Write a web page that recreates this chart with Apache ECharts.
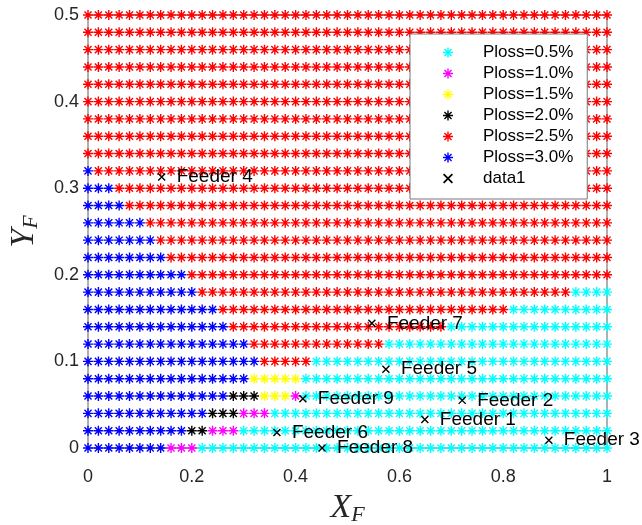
<!DOCTYPE html>
<html>
<head>
<meta charset="utf-8">
<script src="https://cdn.jsdelivr.net/npm/echarts@6/dist/echarts.min.js"></script>
<style>
  html, body { margin: 0; padding: 0; background: #fff; }
  #chart { width: 642px; height: 525px; }
</style>
</head>
<body>
<div id="chart"></div>
<script>
// grid of operating points
const xCols = [0, 0.02, 0.04, 0.06, 0.08, 0.1, 0.12, 0.14, 0.16, 0.18, 0.2, 0.22, 0.24, 0.26, 0.28, 0.3,
  0.32, 0.34, 0.36, 0.38, 0.4, 0.42, 0.44, 0.46, 0.48, 0.5, 0.52, 0.54, 0.56, 0.58, 0.6, 0.62, 0.64,
  0.66, 0.68, 0.7, 0.72, 0.74, 0.76, 0.78, 0.8, 0.82, 0.84, 0.86, 0.88, 0.9, 0.92, 0.94, 0.96, 0.98, 1];
const yRows = [0, 0.02, 0.04, 0.06, 0.08, 0.1, 0.12, 0.14, 0.16, 0.18, 0.2, 0.22, 0.24, 0.26, 0.28,
  0.3, 0.32, 0.34, 0.36, 0.38, 0.4, 0.42, 0.44, 0.46, 0.48, 0.5];

// points per row (bottom to top) of each Ploss class, read left to right: 3.0, 2.5, 2.0, 1.5, 1.0, 0.5
const cnt30 = [8, 10, 12, 14, 16, 17, 16, 14, 13, 11, 10, 8, 7, 6, 4, 3, 1, 0, 0, 0, 0, 0, 0, 0, 0, 0];
const cnt25 = [0, 0, 0, 0, 0, 5, 13, 21, 28, 36, 41, 43, 44, 45, 47, 48, 50, 51, 51, 51, 51, 51, 51, 51, 51, 51];
const cnt20 = [0, 2, 3, 3, 0, 0, 0, 0, 0, 0, 0, 0, 0, 0, 0, 0, 0, 0, 0, 0, 0, 0, 0, 0, 0, 0];
const cnt15 = [0, 0, 0, 3, 5, 0, 0, 0, 0, 0, 0, 0, 0, 0, 0, 0, 0, 0, 0, 0, 0, 0, 0, 0, 0, 0];
const cnt10 = [3, 3, 3, 1, 0, 0, 0, 0, 0, 0, 0, 0, 0, 0, 0, 0, 0, 0, 0, 0, 0, 0, 0, 0, 0, 0];
const cnt05 = [40, 36, 33, 30, 30, 29, 22, 16, 10, 4, 0, 0, 0, 0, 0, 0, 0, 0, 0, 0, 0, 0, 0, 0, 0, 0];

const classNames = ['Ploss=3.0%', 'Ploss=2.5%', 'Ploss=2.0%', 'Ploss=1.5%', 'Ploss=1.0%', 'Ploss=0.5%'];
const classColors = ['#0000ff', '#ff0000', '#000000', '#ffff00', '#ff00ff', '#00ffff'];

// feeders
const feederNames = ['Feeder 1', 'Feeder 2', 'Feeder 3', 'Feeder 4', 'Feeder 5', 'Feeder 6', 'Feeder 7', 'Feeder 8', 'Feeder 9'];
const feederX = [0.649, 0.721, 0.888, 0.142, 0.574, 0.364, 0.547, 0.451, 0.414];
const feederY = [0.033, 0.055, 0.009, 0.313, 0.091, 0.018, 0.144, 0.0, 0.057];

// filled marker shapes made of thin bars (so the legend inherits them too)
function barsPath(spokes, hw) {
  let d = '';
  spokes.forEach(([ax, ay, bx, by]) => {
    const len = Math.hypot(bx - ax, by - ay);
    const nx = -(by - ay) / len * hw, ny = (bx - ax) / len * hw;
    const p = [[ax - nx, ay - ny], [bx - nx, by - ny], [bx + nx, by + ny], [ax + nx, ay + ny]];
    d += 'M' + p.map(q => q[0].toFixed(3) + ',' + q[1].toFixed(3)).join('L') + 'Z';
  });
  return 'path://' + d;
}
const s = Math.SQRT1_2;
const STAR = barsPath([[-1, 0, 1, 0], [0, -1, 0, 1], [-s, -s, s, s], [-s, s, s, -s]], 0.14);
const CROSS = barsPath([[-1, -1, 1, 1], [-1, 1, 1, -1]], 0.2);

// walk each row and hand every point to its class
const counts = [cnt30, cnt25, cnt20, cnt15, cnt10, cnt05];
const classData = counts.map(() => []);
yRows.forEach((y, r) => {
  let c = 0;
  counts.forEach((cnt, k) => {
    for (let i = 0; i < cnt[r]; i++) {
      classData[k].push([xCols[c], y]);
      c++;
    }
  });
});

const chart = echarts.init(document.getElementById('chart'));
const font = 'Liberation Sans, Arial, sans-serif';
const serif = 'Liberation Serif, serif';

const series = classNames.map((name, k) => ({
  name: name,
  type: 'scatter',
  symbol: STAR,
  symbolSize: 10,
  itemStyle: { color: classColors[k], opacity: 1 },
  data: classData[k],
  z: 2
}));
series.push({
  name: 'data1',
  type: 'scatter',
  symbol: CROSS,
  symbolSize: 8,
  itemStyle: { color: '#000000', opacity: 1 },
  label: {
    show: true,
    position: 'right',
    distance: 11,
    formatter: p => p.name,
    color: '#000',
    fontSize: 19,
    fontFamily: font
  },
  data: feederNames.map((n, i) => ({ name: n, value: [feederX[i], feederY[i]] })),
  z: 3
});

const axisName = {
  rich: {
    v: { fontSize: 34, fontStyle: 'italic', fontFamily: serif, color: '#262626' },
    s: { fontSize: 22, fontStyle: 'italic', fontFamily: serif, color: '#262626', padding: [14, 0, 0, 0] }
  }
};

chart.setOption({
  animation: false,
  backgroundColor: '#ffffff',
  grid: {
    left: 88, right: 35, top: 15, bottom: 77,
    outerBoundsMode: 'none',
    show: true,
    borderColor: '#606060',
    borderWidth: 1
  },
  legend: {
    orient: 'vertical',
    left: 410,
    top: 34,
    padding: [10, 14, 12, 33],
    itemWidth: 60,
    itemHeight: 10,
    itemGap: 4,
    backgroundColor: '#ffffff',
    borderColor: '#777',
    borderWidth: 1,
    textStyle: { fontSize: 17, lineHeight: 17, color: '#000', fontFamily: font },
    data: ['Ploss=0.5%', 'Ploss=1.0%', 'Ploss=1.5%', 'Ploss=2.0%', 'Ploss=2.5%', 'Ploss=3.0%', 'data1']
  },
  xAxis: {
    type: 'value',
    min: 0, max: 1, interval: 0.2,
    axisLine: { show: false },
    axisTick: { show: false },
    splitLine: { show: false },
    axisLabel: { color: '#262626', fontSize: 18, fontFamily: font, margin: 20 },
    name: '{v|X}{s|F}',
    nameLocation: 'middle',
    nameGap: 42,
    nameTextStyle: axisName
  },
  yAxis: {
    type: 'value',
    min: 0, max: 0.5, interval: 0.1,
    axisLine: { show: false },
    axisTick: { show: false },
    splitLine: { show: false },
    axisLabel: { color: '#262626', fontSize: 18, fontFamily: font, margin: 9 },
    name: '{v|Y}{s|F}',
    nameLocation: 'middle',
    nameRotate: 90,
    nameGap: 46,
    nameTextStyle: axisName
  },
  series: series
});
</script>
</body>
</html>
